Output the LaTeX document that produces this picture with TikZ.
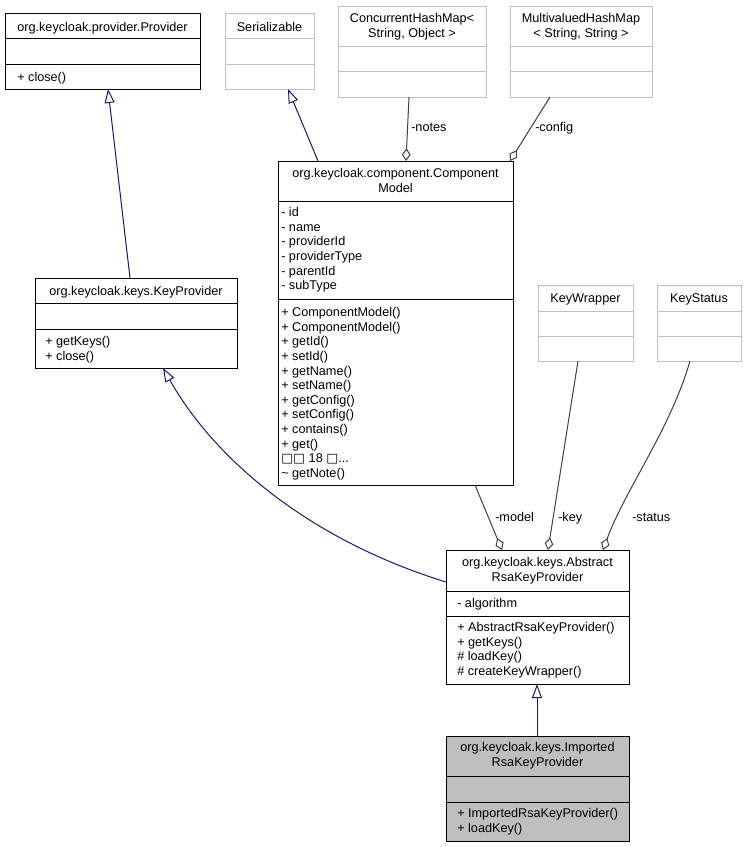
\documentclass[tikz,border=0pt]{standalone}
\usepackage{fontspec}
\setmainfont{Liberation Sans}
\newfontfamily\symfont{DejaVu Sans}
\usetikzlibrary{arrows.meta,fit}
\definecolor{navyc}{HTML}{191970}
\definecolor{aggc}{HTML}{404040}
\definecolor{grayb}{HTML}{BFBFBF}
\begin{document}
\begin{tikzpicture}[x=0.75pt,y=-0.75pt,
  box/.style={draw=black,line width=0.75pt,fill=white,inner sep=0pt},
  gbox/.style={draw=grayb,line width=0.75pt,fill=white,inner sep=0pt},
  sbox/.style={draw=black,line width=0.75pt,fill=grayb,inner sep=0pt},
  txt/.style={inner sep=0pt,font=\fontsize{9.5}{10.95}\selectfont},
  lt/.style={txt,anchor=north west,align=left,execute at begin node=\strut,yshift=-0.75pt},
  ct/.style={txt,anchor=north,align=center,execute at begin node=\strut,yshift=-0.75pt},
  lab/.style={txt,anchor=base west},
  inh/.style={draw=navyc,line width=0.75pt,-{Triangle[length=10.5pt,width=7.5pt,fill=white]}},
  agg/.style={draw=aggc,line width=0.75pt,-{Diamond[length=9.5pt,width=6.5pt,fill=white]}},
  divb/.style={draw=black,line width=0.75pt},
  divg/.style={draw=grayb,line width=0.75pt}]
\useasboundingbox (0,0) rectangle (745,847);
\fill[white] (0,0) rectangle (745,847);

% ---- org.keycloak.provider.Provider
\node[box,fit={(5,13) (200,89)}] (prov) {};
\draw[divb] (5,38) -- (200,38) (5,64) -- (200,64);
\node[ct] (provh) at (102.5,19.8) {org.keycloak.provider.Provider};
\node[lt] (provm) at (17,70.3) {+ close()};

% ---- Serializable
\node[gbox,fit={(225,13) (314,89)}] (ser) {};
\draw[divg] (225,38) -- (314,38) (225,64) -- (314,64);
\node[ct] (serh) at (269.5,19.8) {Serializable};

% ---- ConcurrentHashMap
\node[gbox,fit={(338,6) (486,97)}] (chm) {};
\draw[divg] (338,46) -- (486,46) (338,71) -- (486,71);
\node[ct] (chmh) at (412,12.3) {ConcurrentHashMap\textless\\String, Object \textgreater};

% ---- MultivaluedHashMap
\node[gbox,fit={(510,6) (652,97)}] (mvhm) {};
\draw[divg] (510,46) -- (652,46) (510,71) -- (652,71);
\node[ct] (mvhmh) at (581,12.3) {MultivaluedHashMap\\\textless{} String, String \textgreater};

% ---- ComponentModel
\node[box,fit={(278,161) (513,485)}] (cm) {};
\draw[divb] (278,201) -- (513,201) (278,299) -- (513,299);
\node[ct] (cmh) at (395.5,167.3) {org.keycloak.component.Component\\Model};
\node[lt] (cma) at (281,206.3) {- id\\- name\\- providerId\\- providerType\\- parentId\\- subType};
\node[lt] (cmm) at (281,306.3) {+ ComponentModel()\\+ ComponentModel()\\+ getId()\\+ setId()\\+ getName()\\+ setName()\\+ getConfig()\\+ setConfig()\\+ contains()\\+ get()\\{\symfont □□} 18 {\symfont □}...\\\textasciitilde{} getNote()};

% ---- KeyProvider
\node[box,fit={(35,278) (237,368)}] (kp) {};
\draw[divb] (35,303) -- (237,303) (35,329) -- (237,329);
\node[ct] (kph) at (136,284.3) {org.keycloak.keys.KeyProvider};
\node[lt] (kpm) at (45,335.3) {+ getKeys()\\+ close()};

% ---- KeyWrapper
\node[gbox,fit={(538,285) (633,361)}] (kw) {};
\draw[divg] (538,311) -- (633,311) (538,336) -- (633,336);
\node[ct] (kwh) at (585.5,291.3) {KeyWrapper};

% ---- KeyStatus
\node[gbox,fit={(657,285) (741,361)}] (ks) {};
\draw[divg] (657,311) -- (741,311) (657,336) -- (741,336);
\node[ct] (ksh) at (699,291.3) {KeyStatus};

% ---- AbstractRsaKeyProvider
\node[box,fit={(446,550) (629,684)}] (ark) {};
\draw[divb] (446,591) -- (629,591) (446,616) -- (629,616);
\node[ct] (arkh) at (537.5,556.3) {org.keycloak.keys.Abstract\\RsaKeyProvider};
\node[lt] (arka) at (457,596.3) {- algorithm};
\node[lt] (arkm) at (457,621.3) {+ AbstractRsaKeyProvider()\\+ getKeys()\\\# loadKey()\\\# createKeyWrapper()};

% ---- ImportedRsaKeyProvider
\node[sbox,fit={(446,736) (629,841)}] (irk) {};
\draw[divb] (446,776) -- (629,776) (446,802) -- (629,802);
\node[ct] (irkh) at (537.5,741.3) {org.keycloak.keys.Imported\\RsaKeyProvider};
\node[lt] (irkm) at (457,807.3) {+ ImportedRsaKeyProvider()\\+ loadKey()};

% ---- connector end points
\coordinate (provB) at (108,89);
\coordinate (kpT) at (130,278);
\coordinate (serB) at (288,89);
\coordinate (cmT1) at (318,161);
\coordinate (chmB) at (409,97);
\coordinate (cmT2) at (406,161);
\coordinate (mvhmB) at (550,97);
\coordinate (cmT3) at (510,161);
\coordinate (kpB) at (163,368);
\coordinate (arkL) at (446,582);
\coordinate (cmB) at (475,485);
\coordinate (arkT1) at (502,550);
\coordinate (kwB) at (578,361);
\coordinate (arkT2) at (548,550);
\coordinate (ksB) at (690,361);
\coordinate (arkT3) at (603,550);
\coordinate (arkB) at (537,684);
\coordinate (irkT) at (537,736);

% ---- connectors
\draw[inh] (kpT) -- (provB);
\draw[inh] (cmT1) -- (serB);
\draw[agg] (chmB) -- (cmT2);
\node[lab] (lnotes) at (411,131.5) {-notes};
\draw[agg] (mvhmB) -- (cmT3);
\node[lab] (lconfig) at (535,131.5) {-config};
\draw[inh] (arkL) .. controls (310,540) and (215,460) .. (kpB);
\draw[agg] (cmB) -- (arkT1);
\node[lab] (lmodel) at (495,521.5) {-model};
\draw[agg] (kwB) -- (arkT2);
\node[lab] (lkey) at (558,521.5) {-key};
\draw[agg] (ksB) .. controls (670,430) and (625,490) .. (arkT3);
\node[lab] (lstatus) at (632,521.5) {-status};
\draw[inh] (irkT) -- (arkB);
\end{tikzpicture}
\end{document}
